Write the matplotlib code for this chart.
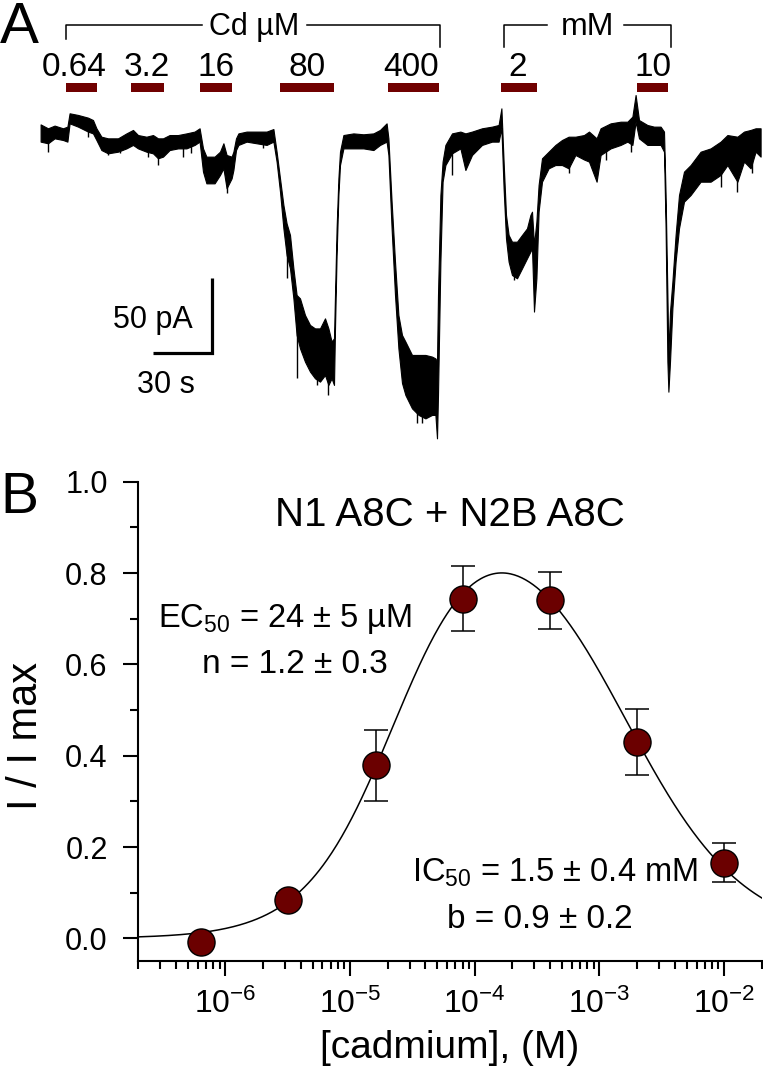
import numpy as np
import matplotlib
matplotlib.use('Agg')
import matplotlib.pyplot as plt
from matplotlib.ticker import LogLocator, NullFormatter, MultipleLocator, FormatStrFormatter

plt.rcParams['font.family'] = ['Liberation Sans', 'DejaVu Sans']
plt.rcParams['mathtext.fontset'] = 'custom'
plt.rcParams['mathtext.rm'] = 'Liberation Sans'
plt.rcParams['mathtext.it'] = 'Liberation Sans:italic'
plt.rcParams['mathtext.default'] = 'regular'
plt.rcParams['axes.unicode_minus'] = False

# ---------------- Panel A data (time in s, current in pA) ----------------
trace_t = [0.3, 4.0, 7.3, 11.5, 13.7, 14.8, 19.0, 24.0, 26.5, 28.2, 30.7, 34.0, 39.0, 43.2,
           46.5, 49.0, 53.2, 56.5, 59.0, 61.5, 64.8, 69.0, 73.2, 77.3, 79.8, 81.5, 83.2, 87.3,
           90.0, 91.7, 93.3, 95.8, 96.7, 98.0, 99.2, 103.3, 108.3, 113.3, 116.7, 118.3, 120.0,
           121.7, 123.3, 125.0, 126.7, 128.3, 130.0, 132.5, 135.0, 137.5, 140.0, 142.5, 144.2,
           145.8, 147.0, 147.5, 148.3, 149.2, 150.0, 151.7, 156.7, 161.7, 166.7, 170.0, 173.3,
           174.2, 175.8, 177.5, 179.2, 181.0, 182.7, 186.0, 189.3, 192.7, 196.0, 197.7, 198.5,
           199.0, 200.2, 201.3, 202.7, 206.0, 210.2, 212.7, 216.0, 221.0, 226.0, 229.3, 230.7,
           231.8, 233.0, 234.3, 236.0, 238.5, 241.0, 243.5, 245.2, 246.0, 247.0, 248.2, 249.3,
           251.0, 254.3, 257.7, 261.0, 264.3, 267.7, 272.0, 274.5, 278.3, 280.3, 285.3, 290.3,
           293.7, 296.2, 297.8, 299.5, 303.7, 307.0, 310.3, 312.0, 312.8, 313.7, 314.2, 315.0,
           316.2, 317.8, 319.5, 322.0, 325.3, 330.3, 335.3, 340.3, 343.7, 348.7, 352.0, 355.3,
           357.8, 360.3]
trace_upper = [10.4, 7.8, 9.6, 7.8, 8.9, 17.8, 16.7, 14.9, 13.3, 7.8, 2.2, 1.1, 1.1, 4.4,
               6.7, 3.3, 2.2, 3.3, 1.1, 1.1, 3.3, 3.3, 4.4, 5.6, 7.8, -5.6, -11.1, -11.1,
               -7.8, -2.2, -10.0, -11.1, -7.8, 1.1, 4.4, 5.6, 5.6, 5.6, 7.3, -7.8, -25.6,
               -43.3, -55.6, -63.3, -85.6, -103.3, -105.6, -116.7, -123.3, -125.6, -125.6, -118.9, -125.6,
               -134.4, -132.2, -103.3, -58.9, -25.6, -7.8, 3.3, 4.4, 3.8, 4.4, 6.7, 11.1,
               1.1, -41.1, -81.1, -116.7, -130.0, -134.4, -143.3, -143.3, -143.3, -144.4, -145.6, -147.8,
               -103.3, -36.7, -14.4, -3.3, 4.4, 5.6, 4.4, 5.6, 7.8, 8.9, 10.0, 21.1,
               -14.4, -50.0, -63.3, -67.8, -67.8, -63.3, -58.9, -50.0, -47.8, -70.0, -54.4, -30.0,
               -12.2, -7.8, -3.3, 0.0, 2.2, 2.2, 3.3, 5.6, 1.1, 7.8, 11.1, 12.2,
               12.2, 15.6, 30.0, 13.3, 10.0, 8.9, 8.9, 5.6, -36.7, -103.3, -143.3, -114.4,
               -94.4, -63.3, -36.7, -21.1, -16.7, -7.8, -5.6, -1.1, 3.3, 2.2, 5.6, 6.7,
               7.8, 7.8]
trace_lower = [-1.1, -2.2, 1.1, 0.0, -1.1, 11.1, 8.9, 5.6, 4.4, 0.0, -6.7, -8.9, -7.8, -5.6,
               -3.3, -5.6, -7.8, -8.9, -12.2, -11.1, -6.7, -5.6, -5.6, -3.3, -1.1, -21.1, -28.9, -28.9,
               -23.3, -18.9, -32.2, -25.6, -20.0, -6.7, -3.3, -1.1, -2.2, -3.3, -1.1, -14.4, -34.4,
               -58.9, -76.7, -85.6, -105.6, -130.0, -138.9, -147.8, -154.4, -158.9, -161.1, -156.7, -163.3,
               -158.9, -163.3, -125.6, -76.7, -36.7, -16.7, -5.6, -5.6, -5.6, -6.7, -3.3, -1.1,
               -10.0, -58.9, -103.3, -138.9, -162.0, -170.0, -178.9, -183.3, -185.6, -183.3, -183.3, -198.9,
               -170.0, -81.1, -27.8, -16.7, -8.9, -5.6, -20.0, -10.0, -3.3, -1.1, -1.1, 7.8,
               -32.2, -65.6, -81.1, -90.0, -92.2, -85.6, -78.9, -74.4, -72.2, -114.4, -92.2, -47.8,
               -27.8, -18.9, -16.7, -16.7, -18.9, -10.0, -13.0, -14.4, -27.8, -10.0, -5.6, -3.3,
               -1.1, -3.3, 12.2, 1.1, -3.3, -3.3, -3.3, -7.8, -58.9, -147.8, -167.8, -147.8,
               -112.2, -81.1, -58.9, -41.1, -36.7, -27.8, -27.8, -23.3, -16.7, -27.8, -14.4, -18.9,
               -7.8, -11.1]
# individual noise spikes (time, top, bottom)
spike_t = [4.0, 24.0, 34.0, 39.8, 54.0, 59.0, 71.5, 75.7, 93.3, 111.7, 123.3, 128.3,
           138.3, 144.2, 188.5, 191.0, 206.0, 236.8, 264.3, 282.8, 295.3, 340.3, 348.7, 356.2]
spike_top = [3.0, 10.0, -3.0, -3.0, -3.0, -5.0, -1.0, 0.0, -20.0, 2.0, -65.0, -115.0,
             -140.0, -140.0, -160.0, -160.0, -2.0, -78.0, -8.0, 2.0, 5.0, -12.0, -12.0, -5.0]
spike_bottom = [-7.8, 2.2, -10.0, -8.9, -11.1, -16.7, -11.1, -8.9, -35.6, -5.6, -92.2, -158.9,
                -163.3, -170.0, -188.9, -188.9, -23.3, -93.3, -22.2, -13.3, -7.8, -31.1, -34.4, -22.2]

app_labels = ['0.64', '3.2', '16', '80', '400', '2', '10']
app_start = [12.85, 45.7, 80.0, 119.9, 174.15, 230.6, 298.25]
app_end = [28.65, 61.75, 96.0, 147.15, 199.5, 248.6, 313.8]
app_label_t = [17.2, 53.5, 88.0, 133.3, 185.35, 238.75, 306.5]

# ---------------- Panel B data ----------------
conc = [0.64e-6, 3.2e-6, 16e-6, 80e-6, 400e-6, 2e-3, 10e-3]
resp = [-0.008, 0.084, 0.379, 0.744, 0.740, 0.430, 0.166]
sem = [0.010, 0.015, 0.078, 0.072, 0.063, 0.072, 0.043]
EC50, n_hill = 24e-6, 1.2
IC50, b_hill = 1.5e-3, 0.9

W, H = 763, 1066
fig = plt.figure(figsize=(W / 100, H / 100), dpi=100)
red = '#6b0000'

# ---------------- Panel A ----------------
axA = fig.add_axes([0, 1 - 450 / H, 1, 450 / H])
axA.set_xlim(-20, 361.5)
axA.set_ylim(-206.67, 93.33)
axA.axis('off')

axA.fill_between(trace_t, trace_lower, trace_upper, color='black', lw=0.8)
axA.vlines(spike_t, spike_bottom, spike_top, color='black', lw=1.0)

for s, e in zip(app_start, app_end):
    axA.add_patch(plt.Rectangle((s, 32.2), e - s, 6.0, color='#700000', lw=0))
for lab, t in zip(app_labels, app_label_t):
    axA.text(t, 42.7, lab, ha='center', va='baseline', fontsize=24)

# brackets
axA.plot([12.85, 12.85, 81.0], [67.1, 76.7, 76.7], color='k', lw=1.1)
axA.plot([133.3, 200.0, 200.0], [76.7, 76.7, 62.2], color='k', lw=1.1)
axA.text(107.0, 70.0, 'Cd µM', ha='center', va='baseline', fontsize=22)
axA.plot([231.8, 231.8, 253.7], [62.2, 76.7, 76.7], color='k', lw=1.1)
axA.plot([292.0, 315.25, 315.25], [76.7, 76.7, 62.2], color='k', lw=1.1)
axA.text(273.8, 70.0, 'mM', ha='center', va='baseline', fontsize=23)

# scale bar
axA.plot([56.5, 86.0, 86.0], [-142.2, -142.2, -92.2], color='k', lw=2.3,
         solid_joinstyle='miter', solid_capstyle='butt')
axA.text(76.5, -125.3, '50 pA', ha='right', va='baseline', fontsize=22)
axA.text(63.0, -168.9, '30 s', ha='center', va='baseline', fontsize=22)

fig.text(0 / W, 1 - 43 / H, 'A', fontsize=42, va='baseline', ha='left')
fig.text(0 / W, 1 - 513 / H, 'B', fontsize=41, va='baseline', ha='left')

# ---------------- Panel B ----------------
left, right, top, bottom = 138.3, 761.7, 481.7, 960.7
axB = fig.add_axes([left / W, 1 - bottom / H, (right - left) / W, (bottom - top) / H])
axB.set_xscale('log')
axB.set_xlim(2e-7, 2e-2)
axB.set_ylim(-0.049, 1.0)
for sp in ['top', 'right']:
    axB.spines[sp].set_visible(False)
for sp in ['left', 'bottom']:
    axB.spines[sp].set_linewidth(1.5)

xf = np.logspace(np.log10(2e-7), np.log10(2e-2), 500)
yf = 1.0 / (1.0 + (EC50 / xf) ** n_hill) / (1.0 + (xf / IC50) ** b_hill)
axB.plot(xf, yf, color='k', lw=1.1, zorder=1)
axB.errorbar(conc, resp, yerr=sem, fmt='none', ecolor='k', elinewidth=1.1,
             capsize=8.3, capthick=1.1, zorder=2)
axB.plot(conc, resp, 'o', ms=19.5, mfc=red, mec='k', mew=1.0, zorder=3, clip_on=False)

axB.yaxis.set_major_locator(MultipleLocator(0.2))
axB.yaxis.set_minor_locator(MultipleLocator(0.1))
axB.xaxis.set_major_locator(LogLocator(base=10, numticks=20))
axB.xaxis.set_minor_locator(LogLocator(base=10, subs=np.arange(2, 10), numticks=20))
axB.xaxis.set_minor_formatter(NullFormatter())
axB.yaxis.set_major_formatter(FormatStrFormatter('%.1f'))
axB.tick_params(which='major', direction='out', length=11, width=1.5, labelsize=22)
axB.tick_params(which='minor', direction='out', length=6, width=1.5)
axB.tick_params(axis='y', which='major', pad=11)
axB.tick_params(axis='x', which='major', pad=9, labelsize=23)

axB.set_xlabel('[cadmium], (M)', fontsize=28, labelpad=7)
axB.set_ylabel('I / I max', fontsize=30)
axB.yaxis.set_label_coords(-0.148, 0.47)

axB.text(0.5, 0.9065, 'N1 A8C + N2B A8C', transform=axB.transAxes, ha='center',
         va='baseline', fontsize=29)
axB.text((284.7 - left) / (right - left), 0.6967, r'EC$_{50}$ = 24 ± 5 µM',
         transform=axB.transAxes, ha='center', va='baseline', fontsize=23.5)
axB.text((295.0 - left) / (right - left), 0.600, 'n = 1.2 ± 0.3',
         transform=axB.transAxes, ha='center', va='baseline', fontsize=24)
axB.text((555.0 - left) / (right - left), 0.165, r'IC$_{50}$ = 1.5 ± 0.4 mM',
         transform=axB.transAxes, ha='center', va='baseline', fontsize=23.5)
axB.text((540.0 - left) / (right - left), 0.0676, 'b = 0.9 ± 0.2',
         transform=axB.transAxes, ha='center', va='baseline', fontsize=24)

fig.savefig('out.png', dpi=100)
